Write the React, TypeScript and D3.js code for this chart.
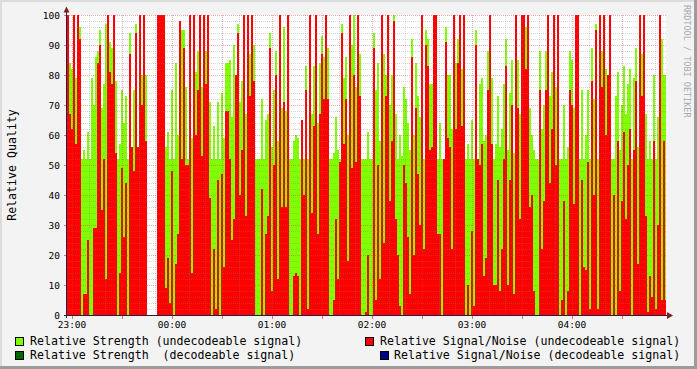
import React from 'react';
import * as d3 from 'd3';

// one sample every 72 s, 22:57 -> 04:57 (null = no data)
const strength = [
    67, 84, 82, 100, 79, 100, 96, 52, 55, 52,
    61, 52, 79, 70, 86, 88, 95, 69, 77, 97,
    100, 91, 89, 100, 78, 52, 57, 75, 64, 73,
    52, 94, 56, 75, 97, 56, 100, 80, 86, 80,
    null, null, null, null, null, 100, 100, 100, 100, 56,
    61, 52, 75, 52, 84, 60, 65, 95, 95, 76,
    52, 100, 59, 100, 81, 88, 100, 76, 88, 88,
    99, 71, 52, 63, 52, 71, 52, 74, 59, 84,
    84, 85, 66, 90, 52, 97, 71, 78, 100, 67,
    100, 87, 100, 90, 52, 52, 52, 72, 52, 65,
    67, 94, 56, 75, 88, 58, 100, 69, 96, 68,
    100, 52, 52, 58, 60, 59, 52, 65, 52, 83,
    52, 100, 67, 83, 100, 64, 84, 93, 86, 100,
    89, 52, 52, 54, 66, 55, 52, 97, 79, 86,
    60, 100, 90, 100, 76, 100, 87, 52, 52, 52,
    61, 52, 52, 94, 75, 84, 58, 100, 87, 80,
    100, 70, 80, 100, 67, 52, 60, 53, 76, 72,
    64, 55, 92, 60, 84, 73, 66, 100, 52, 95,
    92, 77, 77, 100, 100, 52, 64, 52, 52, 96,
    80, 80, 62, 100, 84, 92, 100, 82, 95, 52,
    57, 52, 65, 52, 95, 52, 77, 79, 58, 60,
    88, 100, 79, 52, 57, 73, 56, 62, 77, 92,
    55, 74, 85, 54, 100, 85, 67, 100, 100, 96,
    100, 69, 60, 55, 52, 52, 88, 62, 70, 88,
    100, 73, 81, 100, 76, 100, 52, 52, 70, 52,
    56, 88, 85, 69, 100, 100, 52, 75, 52, 60,
    75, 52, 89, 72, 97, 52, 100, 88, 100, 82,
    80, 100, 52, 52, 73, 81, 55, 70, 83, 67,
    77, 82, 52, 79, 89, 56, 100, 87, 90, 67,
    52, 58, 52, 80, 52, 66, 100, 92, 80, 80,
];

const signalNoise = [
    100, 67, 62, 100, 57, 100, 92, 0, 7, 7,
    25, 0, 0, 29, 29, 84, 90, 35, 52, 12,
    100, 81, 77, 100, 54, 0, 14, 49, 26, 44,
    0, 87, 56, 48, 94, 56, 100, 70, 100, 58,
    null, null, null, null, null, 100, 100, 100, 100, 9,
    19, 4, 48, 0, 17, 27, 98, 52, 89, 50,
    50, 100, 14, 100, 60, 75, 100, 53, 100, 77,
    100, 39, 0, 22, 2, 45, 0, 47, 16, 68,
    68, 52, 25, 32, 80, 94, 40, 55, 100, 33,
    100, 73, 100, 78, 0, 0, 0, 42, 0, 27,
    33, 89, 8, 50, 80, 12, 100, 36, 71, 36,
    100, 0, 0, 13, 14, 13, 0, 65, 40, 75,
    2, 100, 34, 63, 100, 27, 67, 87, 72, 100,
    72, 0, 0, 5, 32, 12, 51, 94, 57, 72,
    18, 100, 49, 80, 51, 100, 73, 0, 0, 1,
    20, 0, 0, 89, 5, 50, 12, 100, 24, 73,
    100, 38, 58, 98, 32, 20, 3, 0, 50, 44,
    26, 7, 86, 20, 69, 47, 30, 100, 22, 90,
    83, 55, 56, 100, 100, 27, 27, 0, 52, 91,
    59, 56, 22, 100, 62, 84, 100, 63, 100, 0,
    10, 0, 28, 3, 90, 52, 50, 57, 13, 19,
    75, 100, 57, 10, 10, 45, 8, 22, 52, 83,
    10, 45, 70, 7, 100, 69, 32, 100, 100, 82,
    100, 36, 40, 8, 0, 0, 75, 22, 38, 75,
    100, 44, 62, 100, 50, 100, 0, 5, 38, 0,
    8, 75, 70, 37, 100, 100, 0, 45, 16, 15,
    51, 2, 78, 40, 95, 2, 100, 76, 100, 60,
    80, 100, 0, 40, 0, 58, 8, 38, 61, 32,
    50, 62, 0, 55, 78, 17, 100, 73, 100, 33,
    1, 13, 6, 58, 2, 30, 100, 5, 58, 5,
];

const yTicks = [0, 10, 20, 30, 40, 50, 60, 70, 80, 90, 100];
const xTickLabels = ['23:00', '00:00', '01:00', '02:00', '03:00', '04:00'];

const legendItems = [
    { label: 'Relative Strength (undecodeable signal)', color: '#80ff00', x: 15, row: 0, tx: 30 },
    { label: 'Relative Signal/Noise (undecodeable signal)', color: '#ff0000', x: 365, row: 0, tx: 380 },
    { label: 'Relative Strength  (decodeable signal)', color: '#006600', x: 15, row: 1, tx: 30 },
    { label: 'Relative Signal/Noise (decodeable signal)', color: '#000088', x: 380, row: 1, tx: 394 },
];

const W = 697;
const H = 369;
const STEP = 72 * 1000;
const start = new Date(2024, 0, 1, 22, 57, 0);
const end = new Date(start.getTime() + strength.length * STEP);

const FONT = '"DejaVu Sans Mono", monospace';

const App = () => {
    const xScale = d3.scaleTime().domain([start, end]).range([67, 667]);
    const yScale = d3.scaleLinear().domain([0, 100]).range([315, 15]);
    const y0 = yScale(0);

    const bars = (values, color) =>
        values.map((v, i) => {
            if (v == null) return null;
            const t = new Date(start.getTime() + i * STEP);
            const t2 = new Date(t.getTime() + STEP);
            const x1 = xScale(t);
            const x2 = Math.min(xScale(t2), 666);
            const y = yScale(v);
            return <rect key={i} x={x1} y={y} width={x2 - x1} height={y0 - y} fill={color} />;
        });

    const minorY = d3.range(0, 101, 2).filter(v => v % 10 !== 0);
    const minorX = d3.timeMinute.every(10).range(start, end).filter(d => d.getMinutes() % 30 !== 0);
    const majorX = d3.timeMinute.every(30).range(start, end);
    const hours = d3.timeHour.range(start, end);

    const minorStroke = 'rgba(130,130,130,0.32)';
    const majorStroke = 'rgba(222,60,60,0.42)';

    return (
        <svg width={W} height={H} style={{ position: 'absolute', left: 0, top: 0, display: 'block' }}>
            <rect x={0} y={0} width={W} height={H} fill="#f3f3f3" />
            <rect x={0} y={0} width={W} height={2} fill="#dcdcdc" />
            <rect x={0} y={0} width={2} height={H} fill="#dcdcdc" />
            <rect x={0} y={H - 3} width={W} height={3} fill="#9c9c9c" />
            <rect x={W - 3} y={0} width={3} height={H} fill="#9c9c9c" />

            <rect x={67} y={15} width={599} height={300} fill="#ffffff" />

            <g shapeRendering="crispEdges">
                {bars(strength, '#80ff00')}
                {bars(signalNoise, '#ff0000')}
            </g>

            <g shapeRendering="crispEdges" strokeWidth={1} strokeDasharray="1,1">
                {minorY.map(v => (
                    <line key={'my' + v} x1={67} x2={666} y1={Math.round(yScale(v)) + 0.5} y2={Math.round(yScale(v)) + 0.5} stroke={minorStroke} />
                ))}
                {minorX.map(d => (
                    <line key={'mx' + d.getTime()} x1={Math.round(xScale(d)) + 0.5} x2={Math.round(xScale(d)) + 0.5} y1={15} y2={315} stroke={minorStroke} />
                ))}
                {yTicks.map(v => (
                    <line key={'gy' + v} x1={67} x2={666} y1={Math.round(yScale(v)) + 0.5} y2={Math.round(yScale(v)) + 0.5} stroke={majorStroke} />
                ))}
                {majorX.map(d => (
                    <line key={'gx' + d.getTime()} x1={Math.round(xScale(d)) + 0.5} x2={Math.round(xScale(d)) + 0.5} y1={15} y2={315} stroke={majorStroke} />
                ))}
            </g>

            <g shapeRendering="crispEdges">
                {yTicks.map(v => (
                    <line key={'ty' + v} x1={64} x2={67} y1={Math.round(yScale(v)) + 0.5} y2={Math.round(yScale(v)) + 0.5} stroke="#e07070" />
                ))}
                {majorX.map(d => (
                    <line key={'tx' + d.getTime()} x1={Math.round(xScale(d)) + 0.5} x2={Math.round(xScale(d)) + 0.5} y1={316} y2={319} stroke="#e07070" />
                ))}
                <line x1={64} x2={668} y1={315.5} y2={315.5} stroke="#20204a" />
                <line x1={66.5} x2={66.5} y1={12} y2={318} stroke="#20204a" />
            </g>
            <polygon points="667,312 673,315.5 667,319" fill="#802020" />
            <polygon points="63.5,12.5 66.5,6.5 69.5,12.5" fill="#802020" />

            <g fontFamily={FONT} fontSize={9.5} fill="#000">
                {yTicks.map(v => (
                    <text key={'ly' + v} x={60} y={yScale(v) + 3.5} textAnchor="end">{v}</text>
                ))}
                {hours.map((d, i) => (
                    <text key={'lx' + i} x={xScale(d)} y={328} textAnchor="middle">{xTickLabels[i]}</text>
                ))}
            </g>

            <text transform="translate(16,165) rotate(-90)" textAnchor="middle" fontFamily={FONT} fontSize={11.6} fill="#000">
                Relative Quality
            </text>

            <text transform="translate(684,5) rotate(90)" fontFamily={FONT} fontSize={8.5} fill="#aaaaaa">
                RRDTOOL / TOBI OETIKER
            </text>

            <g fontFamily={FONT} fontSize={11.6} fill="#000">
                {legendItems.map(item => (
                    <g key={item.label}>
                        <rect x={item.x + 0.5} y={337.5 + item.row * 14} width={8} height={8} fill={item.color} stroke="#000" shapeRendering="crispEdges" />
                        <text x={item.tx} y={345 + item.row * 14} style={{ whiteSpace: 'pre' }}>{item.label}</text>
                    </g>
                ))}
            </g>
        </svg>
    );
};

export default App;
